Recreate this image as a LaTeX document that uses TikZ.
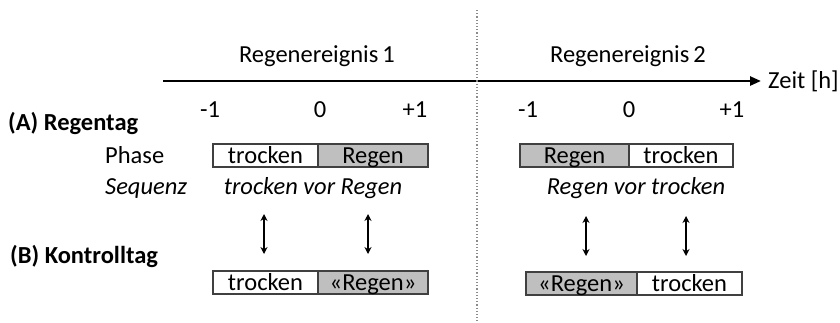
\documentclass[tikz,border=0pt]{standalone}
\usepackage{fontspec}
\setmainfont{Carlito}
\usepackage{tikz}
\usetikzlibrary{arrows.meta,positioning}

\begin{document}
\begin{tikzpicture}[
    x=1pt, y=-1pt,
    font=\fontsize{24.5}{29}\selectfont,
    lbl/.style={anchor=base, inner sep=0pt},
    cell/.style={draw=black!75, line width=1.3pt, inner sep=0pt, outer sep=0pt,
                 minimum height=23pt, text height=19.5pt, text depth=3.5pt},
    dry/.style={cell, fill=white},
    wet/.style={cell, fill=black!25},
    pair/.style={{Stealth[length=7pt,width=7pt]}-{Stealth[length=7pt,width=7pt]}, line width=1.5pt},
    axis/.style={-{Triangle[length=11pt,width=9pt]}, line width=2.4pt},
    ]
\useasboundingbox (0,0) rectangle (840,322);

% ---- time axis ----
\coordinate (t0) at (163,81);
\node[lbl, anchor=base west] (zeit) at (768,88) {Zeit [h]};
\draw[axis, shorten >=7pt] (t0) -- (t0 -| zeit.west);

\coordinate (septop) at (477,10);
\coordinate (sepbot) at (477,321);
\draw[black!45, dotted, line width=1.2pt] (septop) -- (sepbot);

\node[lbl] (ev1) at (317,62) {Regenereignis\,1};
\node[lbl] (ev2) at (628,62) {Regenereignis\,2};

\node[lbl] (m1) at (210,117) {-1};
\node[lbl] (z1) at (320,117) {0};
\node[lbl] (p1) at (415,117) {+1};
\node[lbl] (m2) at (528,117) {-1};
\node[lbl] (z2) at (629,117) {0};
\node[lbl] (p2) at (732,117) {+1};

% ---- (A) rain day ----
\node[lbl, anchor=base west, font=\fontsize{24.5}{29}\selectfont\bfseries] (regentag) at (8,130) {(A) Regentag};
\node[lbl, anchor=base west] (phase) at (105,163) {Phase};
\node[lbl, anchor=base west, font=\fontsize{24.5}{29}\selectfont\itshape] (sequenz) at (105,194) {Sequenz};

\node[dry, minimum width=105pt] (r1dry) at (265.5,155.5) {trocken};
\node[wet, minimum width=110pt, right=0pt of r1dry] (r1wet) {Regen};
\node[wet, minimum width=109pt] (r2wet) at (574.5,155.5) {Regen};
\node[dry, minimum width=104pt, right=0pt of r2wet] (r2dry) {trocken};

\node[lbl, font=\fontsize{24.5}{29}\selectfont\itshape] (seq1) at (313,194) {trocken vor Regen};
\node[lbl, font=\fontsize{24.5}{29}\selectfont\itshape] (seq2) at (636,194) {Regen vor trocken};

% ---- (B) control day ----
\node[lbl, anchor=base west, font=\fontsize{24.5}{29}\selectfont\bfseries] (kontrolltag) at (10,263) {(B) Kontrolltag};

\node[dry, minimum width=105pt] (k1dry) at (265.5,282.5) {trocken};
\node[wet, minimum width=110pt, right=0pt of k1dry] (k1wet) {«Regen»};
\node[wet, minimum width=111pt] (k2wet) at (581.5,283.5) {«Regen»};
\node[dry, minimum width=105pt, right=0pt of k2wet] (k2dry) {trocken};

% ---- pairing arrows ----
\draw[pair] ([xshift=-1.5pt,yshift=17pt]k1dry.north) -- ++(0,40pt);
\draw[pair] ([xshift=-5pt,yshift=17pt]k1wet.north) -- ++(0,40pt);
\draw[pair] ([xshift=4.5pt,yshift=16pt]k2wet.north) -- ++(0,40pt);
\draw[pair] ([xshift=-3.5pt,yshift=16pt]k2dry.north) -- ++(0,40pt);
\end{tikzpicture}
\end{document}
